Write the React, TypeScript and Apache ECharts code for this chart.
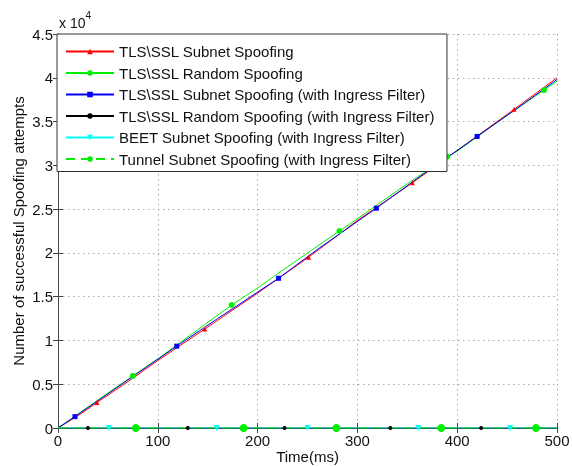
import React, { useEffect, useRef } from "react";
import * as echarts from "echarts";

const seriesNames = [
  "TLS\\SSL Subnet Spoofing",
  "TLS\\SSL Random Spoofing",
  "TLS\\SSL Subnet Spoofing (with Ingress Filter)",
  "TLS\\SSL Random Spoofing (with Ingress Filter)",
  "BEET Subnet Spoofing (with Ingress Filter)",
  "Tunnel Subnet Spoofing (with Ingress Filter)",
];

// [time(ms), attempts]
const redData = [[0, 0], [20, 1400], [39, 2900], [70, 5300], [100, 7700], [147, 11300], [200, 15400], [251, 19500], [300, 23700], [355, 28000], [400, 31700], [457, 36400], [500, 40000]];
const redMarks = [39, 147, 251, 355, 457];
const greenData = [[0, 0], [40, 3200], [75, 5950], [100, 7900], [135, 10800], [174, 14050], [200, 16000], [240, 19200], [282, 22500], [300, 23900], [340, 27100], [390, 31000], [400, 31600], [440, 34900], [487, 38600], [500, 39600]];
const greenMarks = [75, 174, 282, 390, 487];
const blueData = [[0, 0], [17, 1300], [60, 4700], [119, 9350], [160, 12500], [221, 17100], [260, 20400], [319, 25100], [360, 28500], [420, 33300], [460, 36500], [500, 39800]];
const blueMarks = [17, 119, 221, 319, 420];
const blackMarks = [30, 130, 227, 333, 424];
const cyanMarks = [51, 159, 250, 361, 453];
const tunnelMarks = [78, 186, 279, 384, 479];

const yTicks = ["0", "0.5", "1", "1.5", "2", "2.5", "3", "3.5", "4", "4.5"];

const FONT = "Liberation Sans, Arial, sans-serif";
const TXT = "#111";

function withMarks(data: number[][], marks: number[]) {
  return data.map((p) => (marks.includes(p[0]) ? { value: p } : { value: p, symbol: "none" }));
}
function zeroLine(marks: number[]) {
  const pts = [0, ...marks, 500];
  return pts.map((t) => (marks.includes(t) ? { value: [t, 0] } : { value: [t, 0], symbol: "none" }));
}

export default function App() {
  const ref = useRef<HTMLDivElement>(null);
  useEffect(() => {
    const chart = echarts.init(ref.current!, null, { renderer: "svg" });
    const mk = (name: string, color: string, data: any[], symbol: string, size: number, dashed = false) => ({
      name,
      type: "line",
      data,
      symbol,
      symbolSize: size,
      showAllSymbol: true,
      color,
      lineStyle: { color, width: 1, type: dashed ? [9, 6] : "solid" },
      itemStyle: { color },
      emphasis: { disabled: true },
    });
    chart.setOption({
      animation: false,
      textStyle: { fontFamily: FONT },
      grid: { left: 58, right: 15, top: 34, bottom: 39, outerBoundsMode: "none" },
      legend: {
        orient: "vertical",
        left: 57,
        top: 34,
        data: seriesNames,
        backgroundColor: "#fff",
        borderColor: "#333",
        borderWidth: 1,
        borderRadius: 0,
        padding: [10, 12, 5, 8],
        itemWidth: 48,
        itemHeight: 7,
        itemGap: 6.5,
        textStyle: { fontFamily: FONT, fontSize: 15, color: TXT },
      },
      graphic: [
        {
          type: "text",
          left: 59,
          top: 10,
          style: {
            text: "{a|x 10}{b|4}",
            rich: {
              a: { fontFamily: FONT, fontSize: 14, fill: TXT, padding: [6, 0, 0, 0] },
              b: { fontFamily: FONT, fontSize: 10, fill: TXT, verticalAlign: "top" },
            },
          },
        },
        {
          type: "text",
          x: 18,
          y: 231,
          rotation: Math.PI / 2,
          style: {
            text: "Number of successful Spoofing attempts",
            fontFamily: FONT,
            fontSize: 15,
            fill: TXT,
            align: "center",
            verticalAlign: "middle",
          },
        },
        {
          type: "text",
          x: 307.5,
          y: 456,
          style: {
            text: "Time(ms)",
            fontFamily: FONT,
            fontSize: 15,
            fill: TXT,
            align: "center",
            verticalAlign: "middle",
          },
        },
      ],
      xAxis: [
        {
          type: "value",
          min: 0,
          max: 500,
          interval: 100,
          axisLine: { show: true, lineStyle: { color: "#444" } },
          axisTick: { show: true, inside: true, length: 5, lineStyle: { color: "#444" } },
          axisLabel: { fontFamily: FONT, fontSize: 15, color: TXT, margin: 5 },
          splitLine: { show: true, lineStyle: { color: "#aaa", type: [1.5, 3.5] } },
        },
        {
          type: "value",
          position: "top",
          min: 0,
          max: 500,
          interval: 100,
          axisLine: { show: true, lineStyle: { color: "#444" } },
          axisTick: { show: true, inside: true, length: 5, lineStyle: { color: "#444" } },
          axisLabel: { show: false },
          splitLine: { show: false },
        },
      ],
      yAxis: [
        {
          type: "value",
          min: 0,
          max: 45000,
          interval: 5000,
          axisLine: { show: true, lineStyle: { color: "#444" } },
          axisTick: { show: true, inside: true, length: 5, lineStyle: { color: "#444" } },
          axisLabel: {
            fontFamily: FONT,
            fontSize: 15,
            color: TXT,
            margin: 5,
            formatter: (v: number) => yTicks[Math.round(v / 5000)] ?? "",
          },
          splitLine: { show: true, lineStyle: { color: "#aaa", type: [1.5, 3.5] } },
        },
        {
          type: "value",
          position: "right",
          min: 0,
          max: 45000,
          interval: 5000,
          axisLine: { show: true, lineStyle: { color: "#444" } },
          axisTick: { show: true, inside: true, length: 5, lineStyle: { color: "#444" } },
          axisLabel: { show: false },
          splitLine: { show: false },
        },
      ],
      series: [
        mk(seriesNames[0], "#ff0000", withMarks(redData, redMarks), "triangle", 5),
        mk(seriesNames[1], "#00ee00", withMarks(greenData, greenMarks), "circle", 6),
        mk(seriesNames[2], "#0000ff", withMarks(blueData, blueMarks), "rect", 5),
        mk(seriesNames[3], "#000000", zeroLine(blackMarks), "circle", 4),
        mk(seriesNames[4], "#00ffff", zeroLine(cyanMarks), "path://M0,0 L10,0 L5,9 Z", 6),
        mk(seriesNames[5], "#00ee00", zeroLine(tunnelMarks), "circle", 8, true),
      ],
    });
    return () => chart.dispose();
  }, []);
  return <div ref={ref} style={{ position: "fixed", left: 0, top: 0, width: 572, height: 467 }} />;
}
